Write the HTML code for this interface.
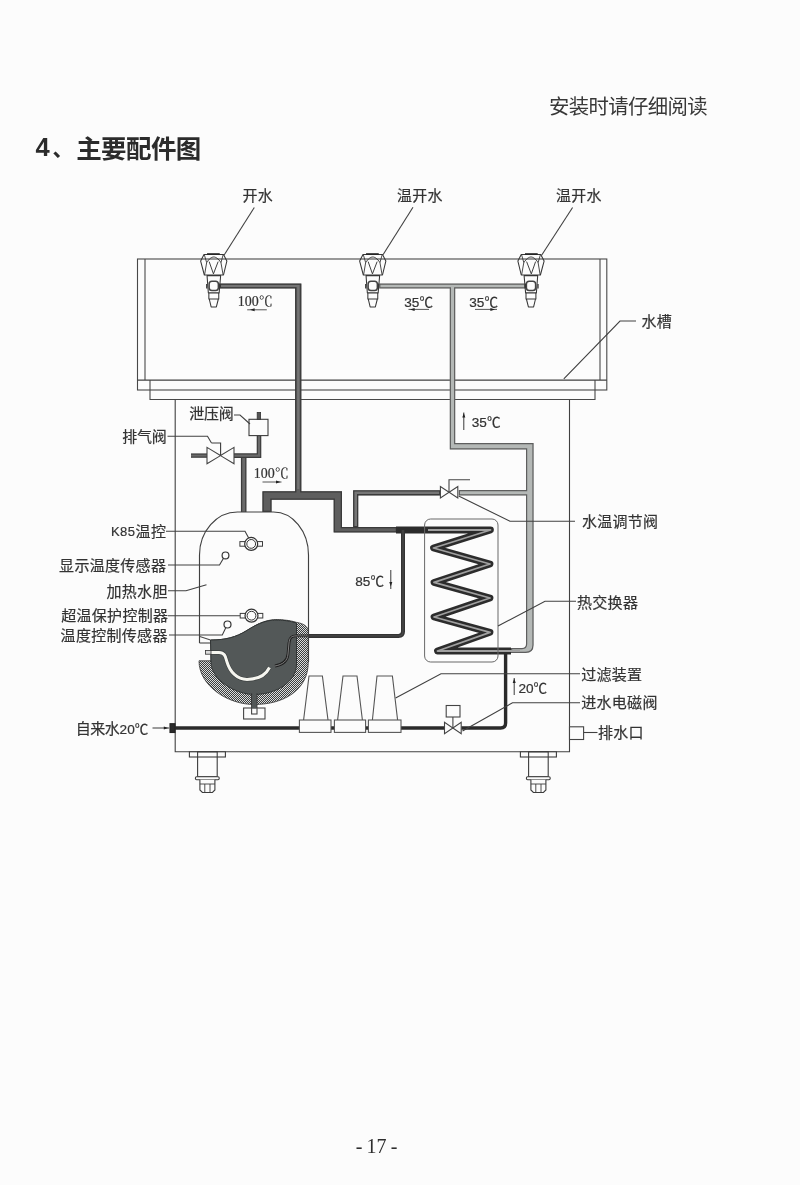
<!DOCTYPE html>
<html><head><meta charset="utf-8"><title>p17</title>
<style>
html,body{margin:0;padding:0;background:#fcfcfc;}
body{width:800px;height:1185px;overflow:hidden;position:relative;font-family:"Liberation Serif",serif;}
svg{position:absolute;left:0;top:0;display:block;filter:blur(0.35px)}
svg text{font-family:"Liberation Sans","Noto Sans CJK SC",sans-serif;white-space:pre}
svg text.sf{font-family:"Liberation Serif","Noto Serif CJK SC",serif}
#pn{position:absolute;left:355.8px;top:1134.1px;font-size:20px;line-height:24px;color:#2e2e2e;white-space:pre;word-spacing:-0.9px;transform:scaleY(1.06);transform-origin:0 75%}
</style></head><body>
<svg width="800" height="1185" viewBox="0 0 800 1185">
<rect width="800" height="1185" fill="#fcfcfc"/>
<text x="549" y="113.7" font-size="20.4" letter-spacing="-0.65" fill="#383838">安装时请仔细阅读</text>
<text x="35.6" y="156.3" font-size="25.5" font-weight="bold" fill="#2b2b2b">4</text>
<text x="52.6" y="156.4" font-size="21" font-weight="bold" fill="#2b2b2b">、</text>
<text x="76.2" y="158" font-size="25.5" font-weight="bold" letter-spacing="-0.6" fill="#2b2b2b">主要配件图</text>
<rect x="137.5" y="259" width="469.30" height="131.00" rx="0" fill="none" stroke="#484848" stroke-width="1.1" />
<line x1="145" y1="259" x2="145" y2="380" stroke="#484848" stroke-width="1.1" />
<line x1="600" y1="259" x2="600" y2="380" stroke="#484848" stroke-width="1.1" />
<line x1="137.5" y1="380.2" x2="606.8" y2="380.2" stroke="#404040" stroke-width="1.2" />
<polyline points="150,380 150,399.5 595,399.5 595,380" fill="none" stroke="#484848" stroke-width="1.1" />
<polyline points="175.2,399.8 175.2,751.8 569.5,751.8 569.5,399.8" fill="none" stroke="#404040" stroke-width="1.1" />
<clipPath id="cp1"><path d="M379.2,283.5 H525.5 V288.5 H455.25 V443 H533.6 V645 Q533.6,653 525.6,653 H511 V648 H522 Q526,648 526,644 V495.5 H458.75 V490 H526 V449.5 H449.75 V288.5 H379.2 Z"/></clipPath>
<path d="M379.2,283.5 H525.5 V288.5 H455.25 V443 H533.6 V645 Q533.6,653 525.6,653 H511 V648 H522 Q526,648 526,644 V495.5 H458.75 V490 H526 V449.5 H449.75 V288.5 H379.2 Z" fill="#b4b8b6" stroke="#5e5e5e" stroke-width="2.4" clip-path="url(#cp1)"/>
<clipPath id="cp2"><path d="M220,283.5 H301.4 V491.3 H342 V527 H397 V532.6 H333.6 V499.7 H271.6 V512 H262.4 V491.3 H295.1 V288.5 H220 Z"/></clipPath>
<path d="M220,283.5 H301.4 V491.3 H342 V527 H397 V532.6 H333.6 V499.7 H271.6 V512 H262.4 V491.3 H295.1 V288.5 H220 Z" fill="#5e5e5e" stroke="#3a3a3a" stroke-width="2.6" clip-path="url(#cp2)"/>
<clipPath id="cp3"><path d="M353.1,527.3 V490.2 H440.5 V495.4 H358.3 V527.3 Z"/></clipPath>
<path d="M353.1,527.3 V490.2 H440.5 V495.4 H358.3 V527.3 Z" fill="#767676" stroke="#3a3a3a" stroke-width="2.6" clip-path="url(#cp3)"/>
<path d="M221,286 H298.25 V489" fill="none" stroke="#747474" stroke-width="2.2"/>
<path d="M241,512 V453.3 H234 V457.9 H241 Z" fill="none" stroke="none" stroke-width="0" />
<path d="M243.7,512 V455.6" fill="none" stroke="#3c3c3c" stroke-width="5.6" stroke-linecap="butt" stroke-linejoin="miter"/>
<path d="M243.7,512 V455.6" fill="none" stroke="#6a6a6a" stroke-width="3" stroke-linecap="butt" stroke-linejoin="miter"/>
<path d="M234,455.6 H259 V435.5" fill="none" stroke="#3c3c3c" stroke-width="4.6" stroke-linecap="butt" stroke-linejoin="miter"/>
<path d="M234,455.6 H259 V435.5" fill="none" stroke="#6a6a6a" stroke-width="2.2" stroke-linecap="butt" stroke-linejoin="miter"/>
<path d="M191,455.6 H207" fill="none" stroke="#3c3c3c" stroke-width="4.4" stroke-linecap="butt" stroke-linejoin="miter"/>
<path d="M191,455.6 H207" fill="none" stroke="#6a6a6a" stroke-width="2" stroke-linecap="butt" stroke-linejoin="miter"/>
<path d="M396,530 H490.5 L433.5,548 L490,564 L434,582.4 L490,598 L434,617 L490,632.4 L437.5,651 H511" fill="none" stroke="#2c2c2c" stroke-width="6.8" stroke-linejoin="round" stroke-linecap="butt"/>
<path d="M428,530 H490.5 L433.5,548 L490,564 L434,582.4 L490,598 L434,617 L490,632.4 L437.5,651 H520" fill="none" stroke="#a0a0a0" stroke-width="1.8" stroke-linejoin="round"/>
<rect x="424.6" y="519" width="73.40" height="143.00" rx="6" fill="none" stroke="#686868" stroke-width="1" />
<path d="M403,530 V631.5 Q403,635.9 398.5,635.9 H308" fill="none" stroke="#333" stroke-width="4.0" stroke-linecap="butt" stroke-linejoin="miter"/>
<path d="M403,530 V631.5 Q403,635.9 398.5,635.9 H308" fill="none" stroke="#484848" stroke-width="1.4" stroke-linecap="butt" stroke-linejoin="miter"/>
<path d="M175,728 H444.5 M461.2,728 H500.6 Q505.6,728 505.6,723 V653.5" fill="none" stroke="#2a2a2a" stroke-width="3.4"/>
<path d="M199.5,643 V555 C199.5,531.3 216.5,512 237.5,512 H273.5 C292.8,512 308.5,531.3 308.5,555 V662" fill="none" stroke="#404040" stroke-width="1.15" />
<line x1="199.5" y1="643" x2="211" y2="643" stroke="#484848" stroke-width="1.1" />
<line x1="199.8" y1="636.6" x2="210.5" y2="640" stroke="#484848" stroke-width="1.1" />
<defs><pattern id="chk" width="2" height="2" patternUnits="userSpaceOnUse"><rect width="2" height="2" fill="#3a3e3e"/><rect width="1" height="1" fill="#dcdcdc"/><rect x="1" y="1" width="1" height="1" fill="#dcdcdc"/></pattern></defs>
<path d="M199,660.8 H211 V640 C226,640 236,637 246,631 C254,626 264,619.6 276,619.6 C284,619.6 291,620.6 297,622.5 C303,623.5 308.3,626 308.3,632 V662 C308.3,690 284,704.5 254,704.5 C228,704.5 199,686 199,660.8 Z" fill="url(#chk)" stroke="#333" stroke-width="0.8" />
<path d="M210.5,640 C226,640 236,637 246,631 C254,626 264,620 276,620 C284,620 290,621 296.5,623 V664 C296.5,682 276,694.5 254,694.5 C236,694.5 211,680 211,662 Z" fill="#535858" stroke="#303434" stroke-width="1" />
<path d="M211,652.4 H219 C225,652.4 225.5,657 227,662 C230,672 237,679.4 247,679.4 C257,679.4 265.5,675.5 269.5,667.5" fill="none" stroke="#3a3e3e" stroke-width="4.2"/>
<path d="M211,652.4 H219 C225,652.4 225.5,657 227,662 C230,672 237,679.4 247,679.4 C257,679.4 265.5,675.5 269.5,667.5" fill="none" stroke="#f6f6f0" stroke-width="3.0"/>
<rect x="205.5" y="650.6" width="5.50" height="3.60" rx="0" fill="#ddd" stroke="#333" stroke-width="0.8" />
<path d="M308,635.9 H296 C291,635.9 289.5,638 289,643 L288,654 C287.5,661 283,664.5 275,666" fill="none" stroke="#1e1e1e" stroke-width="2.8"/>
<path d="M308,635.9 H296 C291,635.9 289.5,638 289,643 L288,654 C287.5,661 283,664.5 275,666" fill="none" stroke="#8a8a8a" stroke-width="0.9"/>
<rect x="251.6" y="694" width="5.40" height="18.00" rx="0" fill="#535858" stroke="#2a2a2a" stroke-width="0.8" />
<rect x="243.6" y="708" width="21.40" height="11.00" rx="0" fill="#fcfcfc" stroke="#444" stroke-width="1.1" />
<rect x="251.6" y="708" width="5.40" height="6.00" rx="0" fill="#fcfcfc" stroke="#444" stroke-width="1.1" />
<rect x="252.2" y="693" width="4.20" height="15.40" rx="0" fill="#535858" stroke="none" stroke-width="0" />
<rect x="239.89999999999998" y="541.6" width="5.30" height="4.60" rx="0" fill="#fcfcfc" stroke="#3c3c3c" stroke-width="1.0" />
<rect x="257.2" y="541.6" width="5.30" height="4.60" rx="0" fill="#fcfcfc" stroke="#3c3c3c" stroke-width="1.0" />
<circle cx="251.2" cy="543.9" r="6.5" fill="#fcfcfc" stroke="#333" stroke-width="1.2"/>
<circle cx="251.2" cy="543.9" r="4.4" fill="none" stroke="#333" stroke-width="1.0"/>
<rect x="240.2" y="613.4000000000001" width="5.30" height="4.60" rx="0" fill="#fcfcfc" stroke="#3c3c3c" stroke-width="1.0" />
<rect x="257.5" y="613.4000000000001" width="5.30" height="4.60" rx="0" fill="#fcfcfc" stroke="#3c3c3c" stroke-width="1.0" />
<circle cx="251.5" cy="615.7" r="6.5" fill="#fcfcfc" stroke="#333" stroke-width="1.2"/>
<circle cx="251.5" cy="615.7" r="4.4" fill="none" stroke="#333" stroke-width="1.0"/>
<circle cx="225.5" cy="555.4" r="3.4" fill="none" stroke="#333" stroke-width="1.2"/>
<circle cx="227.5" cy="624.5" r="3.5" fill="none" stroke="#333" stroke-width="1.2"/>
<polyline points="303.6,720 309,676 322.4,676 328,720" fill="#fcfcfc" stroke="#555" stroke-width="1.1" />
<rect x="299.4" y="720" width="31.60" height="12.40" rx="0" fill="#fcfcfc" stroke="#555" stroke-width="1.1" />
<polyline points="337.6,720 343,676 357,676 362.4,720" fill="#fcfcfc" stroke="#555" stroke-width="1.1" />
<rect x="334.4" y="720" width="31.20" height="12.40" rx="0" fill="#fcfcfc" stroke="#555" stroke-width="1.1" />
<polyline points="372.4,720 377,676 392.4,676 397.6,720" fill="#fcfcfc" stroke="#555" stroke-width="1.1" />
<rect x="368.4" y="720" width="32.60" height="12.40" rx="0" fill="#fcfcfc" stroke="#555" stroke-width="1.1" />
<polygon points="207,447.40000000000003 207,463.8 220.5,455.6" fill="#fcfcfc" stroke="#444" stroke-width="1.1" />
<polygon points="234,447.40000000000003 234,463.8 220.5,455.6" fill="#fcfcfc" stroke="#444" stroke-width="1.1" />
<polyline points="211.5,443 220.6,443 220.6,455" fill="none" stroke="#3c3c3c" stroke-width="1.1" />
<rect x="249" y="419.3" width="19.00" height="16.30" rx="0" fill="#fcfcfc" stroke="#3c3c3c" stroke-width="1.1" />
<rect x="257.2" y="412.4" width="3.40" height="6.90" rx="0" fill="#555" stroke="#333" stroke-width="0.8" />
<polygon points="440.4,486.6 440.4,498.0 449.1,492.3" fill="#fcfcfc" stroke="#444" stroke-width="1.1" />
<polygon points="457.8,486.6 457.8,498.0 449.1,492.3" fill="#fcfcfc" stroke="#444" stroke-width="1.1" />
<polyline points="449,492 449,479.7 470,479.7" fill="none" stroke="#444" stroke-width="1.1" />
<polygon points="444.5,722.4 444.5,733.6 452.85,728" fill="#fcfcfc" stroke="#444" stroke-width="1.1" />
<polygon points="461.2,722.4 461.2,733.6 452.85,728" fill="#fcfcfc" stroke="#444" stroke-width="1.1" />
<line x1="452.9" y1="728" x2="452.9" y2="717" stroke="#444" stroke-width="1.1" />
<rect x="446.2" y="705.5" width="13.80" height="11.50" rx="0" fill="#fcfcfc" stroke="#444" stroke-width="1.1" />
<rect x="170" y="723.7" width="5.00" height="8.80" rx="0" fill="#2a2a2a" stroke="#222" stroke-width="1.1" />
<rect x="569.5" y="726.8" width="14.10" height="12.70" rx="0" fill="#fcfcfc" stroke="#444" stroke-width="1.1" />
<rect x="189.4" y="751.8" width="36.00" height="5.20" rx="0" fill="#fcfcfc" stroke="#3c3c3c" stroke-width="1.1" />
<rect x="197.6" y="751.8" width="19.60" height="24.90" rx="0" fill="none" stroke="#3c3c3c" stroke-width="1.1" />
<rect x="195.4" y="776.7" width="23.80" height="3.10" rx="1.2" fill="#fcfcfc" stroke="#3c3c3c" stroke-width="1.1" />
<path d="M199.9,779.8 V790 L202.4,792.5 H212.4 L214.9,790 V779.8" fill="#fcfcfc" stroke="#3c3c3c" stroke-width="1.1" />
<line x1="204.8" y1="784" x2="204.8" y2="792" stroke="#3c3c3c" stroke-width="0.9" />
<line x1="210.0" y1="784" x2="210.0" y2="792" stroke="#3c3c3c" stroke-width="0.9" />
<line x1="199.9" y1="784" x2="214.9" y2="784" stroke="#3c3c3c" stroke-width="0.9" />
<rect x="520.4" y="751.8" width="36.00" height="5.20" rx="0" fill="#fcfcfc" stroke="#3c3c3c" stroke-width="1.1" />
<rect x="528.6" y="751.8" width="19.60" height="24.90" rx="0" fill="none" stroke="#3c3c3c" stroke-width="1.1" />
<rect x="526.4" y="776.7" width="23.80" height="3.10" rx="1.2" fill="#fcfcfc" stroke="#3c3c3c" stroke-width="1.1" />
<path d="M530.9,779.8 V790 L533.4,792.5 H543.4 L545.9,790 V779.8" fill="#fcfcfc" stroke="#3c3c3c" stroke-width="1.1" />
<line x1="535.8" y1="784" x2="535.8" y2="792" stroke="#3c3c3c" stroke-width="0.9" />
<line x1="541.0" y1="784" x2="541.0" y2="792" stroke="#3c3c3c" stroke-width="0.9" />
<line x1="530.9" y1="784" x2="545.9" y2="784" stroke="#3c3c3c" stroke-width="0.9" />
<g transform="translate(213.75 0) scale(1 1)" stroke="#363636" stroke-width="1.05" fill="#fcfcfc" stroke-linejoin="round">
<path d="M-6.7,275.6 L-5.4,293 H5.4 L6.9,275.6 Z"/>
<path d="M-4.9,293 H5 V299 H-4.9 Z M-4.5,299 L-2.6,306.9 H2.6 L4.6,299 Z"/>
<rect x="-4.6" y="281.2" width="9.2" height="9.4" rx="2.8" stroke-width="1.5" stroke="#444"/>
<path d="M5.6,283.6 V288.6" stroke-width="1.2"/>
<path d="M-7,284 V288.6" stroke-width="1.3"/>
<path d="M-9.75,254.4 H9.75 L13.1,261.1 L9.75,275 H-9.4 L-13.1,261.1 Z" fill="none"/>
<path d="M-9.4,254.8 L-7.1,262.6 L-9.2,275 M9.4,254.8 L7.2,262.6 L9.4,275" fill="none" stroke-width="0.9"/>
<path d="M-7.1,262.6 C-4.5,258.5 -2,257 0,257 C2,257 4.5,258.5 7.2,262.6 M-4.6,261.6 L-0.3,273.9 L4.4,261.6" fill="none" stroke-width="0.95"/>
<path d="M-6.7,254 H6" stroke="#222" stroke-width="1.6"/>
</g>
<g transform="translate(372.75 0) scale(1 1)" stroke="#363636" stroke-width="1.05" fill="#fcfcfc" stroke-linejoin="round">
<path d="M-6.7,275.6 L-5.4,293 H5.4 L6.9,275.6 Z"/>
<path d="M-4.9,293 H5 V299 H-4.9 Z M-4.5,299 L-2.6,306.9 H2.6 L4.6,299 Z"/>
<rect x="-4.6" y="281.2" width="9.2" height="9.4" rx="2.8" stroke-width="1.5" stroke="#444"/>
<path d="M5.6,283.6 V288.6" stroke-width="1.2"/>
<path d="M-7,284 V288.6" stroke-width="1.3"/>
<path d="M-9.75,254.4 H9.75 L13.1,261.1 L9.75,275 H-9.4 L-13.1,261.1 Z" fill="none"/>
<path d="M-9.4,254.8 L-7.1,262.6 L-9.2,275 M9.4,254.8 L7.2,262.6 L9.4,275" fill="none" stroke-width="0.9"/>
<path d="M-7.1,262.6 C-4.5,258.5 -2,257 0,257 C2,257 4.5,258.5 7.2,262.6 M-4.6,261.6 L-0.3,273.9 L4.4,261.6" fill="none" stroke-width="0.95"/>
<path d="M-6.7,254 H6" stroke="#222" stroke-width="1.6"/>
</g>
<g transform="translate(531 0) scale(-1 1)" stroke="#363636" stroke-width="1.05" fill="#fcfcfc" stroke-linejoin="round">
<path d="M-6.7,275.6 L-5.4,293 H5.4 L6.9,275.6 Z"/>
<path d="M-4.9,293 H5 V299 H-4.9 Z M-4.5,299 L-2.6,306.9 H2.6 L4.6,299 Z"/>
<rect x="-4.6" y="281.2" width="9.2" height="9.4" rx="2.8" stroke-width="1.5" stroke="#444"/>
<path d="M5.6,283.6 V288.6" stroke-width="1.2"/>
<path d="M-7,284 V288.6" stroke-width="1.3"/>
<path d="M-9.75,254.4 H9.75 L13.1,261.1 L9.75,275 H-9.4 L-13.1,261.1 Z" fill="none"/>
<path d="M-9.4,254.8 L-7.1,262.6 L-9.2,275 M9.4,254.8 L7.2,262.6 L9.4,275" fill="none" stroke-width="0.9"/>
<path d="M-7.1,262.6 C-4.5,258.5 -2,257 0,257 C2,257 4.5,258.5 7.2,262.6 M-4.6,261.6 L-0.3,273.9 L4.4,261.6" fill="none" stroke-width="0.95"/>
<path d="M-6.7,254 H6" stroke="#222" stroke-width="1.6"/>
</g>
<line x1="254.3" y1="207.5" x2="224" y2="255.3" stroke="#404040" stroke-width="1.1" />
<line x1="413" y1="207.2" x2="383" y2="254.8" stroke="#404040" stroke-width="1.1" />
<line x1="572.6" y1="207.5" x2="541.6" y2="255.3" stroke="#404040" stroke-width="1.1" />
<polyline points="563.8,378.8 620,321 636,321" fill="none" stroke="#404040" stroke-width="1.1" />
<polyline points="234,415 240,415 250,424" fill="none" stroke="#404040" stroke-width="1.1" />
<polyline points="167.5,436.2 207.5,436.2 211.5,443" fill="none" stroke="#404040" stroke-width="1.1" />
<polyline points="166,531.3 245,531.3 248.7,538" fill="none" stroke="#404040" stroke-width="1.1" />
<polyline points="168,565 219.5,565 223.5,558.2" fill="none" stroke="#404040" stroke-width="1.1" />
<polyline points="168,590.8 186,590.8 206.5,584.8" fill="none" stroke="#404040" stroke-width="1.1" />
<line x1="168" y1="615.8" x2="240" y2="615.8" stroke="#404040" stroke-width="1.1" />
<polyline points="169,635 222.3,635 225.9,627.6" fill="none" stroke="#404040" stroke-width="1.1" />
<polyline points="458.7,496 510,521.3 575,521.3" fill="none" stroke="#404040" stroke-width="1.1" />
<polyline points="498,626 545,601.3 576,601.3" fill="none" stroke="#404040" stroke-width="1.1" />
<polyline points="395.6,698 441,673.8 580,673.8" fill="none" stroke="#404040" stroke-width="1.1" />
<polyline points="462.5,731 512.5,702.8 580,702.8" fill="none" stroke="#404040" stroke-width="1.1" />
<line x1="583.8" y1="732.5" x2="597.5" y2="732.5" stroke="#404040" stroke-width="1.1" />
<g fill="#333" stroke="#333" stroke-width="0.2" font-size="15">
<text x="242.4" y="201.2" letter-spacing="0.3">开水</text>
<text x="397" y="201.2" letter-spacing="0.3">温开水</text>
<text x="556" y="201.2" letter-spacing="0.3">温开水</text>
<text x="641.5" y="327" letter-spacing="0.3">水槽</text>
<text x="189.3" y="419.2" letter-spacing="-0.3">泄压阀</text>
<text x="122.3" y="441.5" letter-spacing="-0.3">排气阀</text>
<text x="111" y="536.2" font-size="13" letter-spacing="0.4">K85</text>
<text x="135.6" y="536.5" letter-spacing="0.3">温控</text>
<text x="59.1" y="570.8" letter-spacing="0.3">显示温度传感器</text>
<text x="106.5" y="597" letter-spacing="0.3">加热水胆</text>
<text x="61.2" y="621" letter-spacing="0.3">超温保护控制器</text>
<text x="60.6" y="640.8" letter-spacing="0.3">温度控制传感器</text>
<text x="581.9" y="527.3" letter-spacing="0.3">水温调节阀</text>
<text x="577" y="607.5" letter-spacing="0.3">热交换器</text>
<text x="581.2" y="679.5" letter-spacing="0.3">过滤装置</text>
<text x="581.2" y="708.4" letter-spacing="0.3">进水电磁阀</text>
<text x="598" y="737.8" letter-spacing="0.3">排水口</text>
<text x="75.8" y="733.5" letter-spacing="-0.5">自来水</text>
<text x="119.6" y="733.6" font-size="13.6">20℃</text>
<text class="sf" x="237.8" y="306.2" font-size="14">100℃</text>
<text x="404.3" y="306.6" font-size="13.6">35℃</text>
<text x="469.3" y="306.6" font-size="13.6">35℃</text>
<text class="sf" x="253.8" y="477.5" font-size="14">100℃</text>
<text x="471.8" y="427.2" font-size="13.6">35℃</text>
<text x="355.3" y="585.8" font-size="13.6">85℃</text>
<text x="518.5" y="692.8" font-size="13.6">20℃</text>
</g>
<line x1="247.2" y1="309.8" x2="266.8" y2="309.8" stroke="#444" stroke-width="0.9" />
<polygon points="250,309.8 254.6,308.3 254.6,311.3" fill="#222" stroke="none" stroke-width="0" />
<line x1="408.5" y1="309.4" x2="429" y2="309.4" stroke="#444" stroke-width="0.9" />
<polygon points="410,309.4 414.6,307.9 414.6,310.9" fill="#222" stroke="none" stroke-width="0" />
<line x1="475" y1="309.4" x2="497" y2="309.4" stroke="#444" stroke-width="0.9" />
<polygon points="495,309.4 490.4,307.9 490.4,310.9" fill="#222" stroke="none" stroke-width="0" />
<line x1="262.5" y1="482" x2="281.5" y2="482" stroke="#444" stroke-width="0.9" />
<polygon points="280.6,482 276.0,480.5 276.0,483.5" fill="#222" stroke="none" stroke-width="0" />
<line x1="463.8" y1="430" x2="463.8" y2="412.5" stroke="#3a3a3a" stroke-width="1.0" />
<polygon points="463.8,413.0 465.3,417.4 462.3,417.4" fill="#222" stroke="none" stroke-width="0" />
<line x1="390.8" y1="570" x2="390.8" y2="589" stroke="#3a3a3a" stroke-width="1.0" />
<polygon points="390.8,586.4 389.3,582.0 392.3,582.0" fill="#222" stroke="none" stroke-width="0" />
<line x1="514.2" y1="695" x2="514.2" y2="678" stroke="#3a3a3a" stroke-width="1.0" />
<polygon points="514.2,678.5 515.7,682.9 512.7,682.9" fill="#222" stroke="none" stroke-width="0" />
<line x1="152.5" y1="728" x2="169.2" y2="728" stroke="#3a3a3a" stroke-width="1.0" />
<polygon points="168.2,728.0 163.79999999999998,729.5 163.79999999999998,726.5" fill="#222" stroke="none" stroke-width="0" />
</svg>
<div id="pn">- 17 -</div>
</body></html>
